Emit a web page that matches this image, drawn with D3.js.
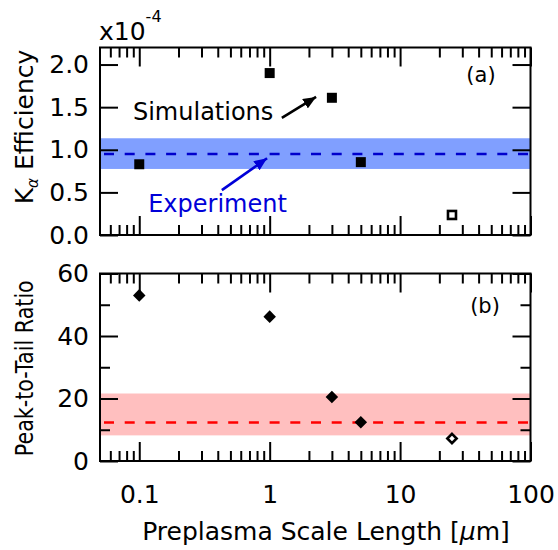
<!DOCTYPE html>
<html>
<head>
<meta charset="utf-8">
<script src="https://cdn.jsdelivr.net/npm/d3@7"></script>
<style>
  html, body { margin: 0; padding: 0; background: #fff; }
  svg { display: block; }
  text { font-family: "DejaVu Sans", sans-serif; fill: #000; }
</style>
</head>
<body>
<svg id="chart" width="558" height="550"></svg>
<script>
// ---------- data ----------
const scaleLength = [0.1, 1, 3, 5];          // µm, simulations (filled)
const kaEfficiency = [0.83, 1.90, 1.61, 0.855]; // x1e-4
const peakToTail = [53, 46.2, 20.5, 12.4];
const openLength = [25];                      // open marker
const openKa = [0.235];
const openPT = [7.2];
const kaExperiment = { value: 0.95, low: 0.775, high: 1.135 };
const ptExperiment = { value: 12.3, low: 8.2, high: 21.6 };
const xTickValues = [0.1, 1, 10, 100];
const xTickLabels = ["0.1", "1", "10", "100"];
const kaTicks = [0, 0.5, 1.0, 1.5, 2.0];
const ptTicks = [0, 20, 40, 60];
const ptMinorTicks = [10, 30, 50];

// ---------- layout ----------
const svg = d3.select("#chart");
const L = 100, R = 530.5;
const topA = 47.5, botA = 235;
const topB = 273.5, botB = 461;

const x = d3.scaleLog().domain([0.05, 100]).range([L, R]);
const yA = d3.scaleLinear().domain([0, 2.2]).range([botA, topA]);
const yB = d3.scaleLinear().domain([0, 60]).range([botB, topB]);

const minorX = [];
[0.01, 0.1, 1, 10].forEach(d => { for (let k = 2; k <= 9; k++) { const v = d * k; if (v > 0.05 && v < 100) minorX.push(v); } });

const defs = svg.append("defs");
function arrowMarker(id, color) {
  defs.append("marker").attr("id", id).attr("viewBox", "0 0 13 11")
    .attr("refX", 13).attr("refY", 5.5).attr("markerWidth", 13).attr("markerHeight", 11)
    .attr("markerUnits", "userSpaceOnUse").attr("orient", "auto")
    .append("path").attr("d", "M0,0 L13,5.5 L0,11 Z").attr("fill", color);
}
arrowMarker("arrBlack", "#000");
arrowMarker("arrBlue", "#0000d8");

const tickFont = "25px";
function styleAxis(g) {
  g.select(".domain").remove();
  g.selectAll(".tick line").attr("stroke", "#000").attr("stroke-width", 2);
  g.selectAll(".tick text").style("font-family", "DejaVu Sans, sans-serif").style("font-size", tickFont).attr("fill", "#000");
}

function panel(yScale, top, bot, yTicks, yFmt, yMinor, band, bandColor, lineColor) {
  // band
  svg.append("rect").attr("x", L).attr("width", R - L)
    .attr("y", yScale(band.high)).attr("height", yScale(band.low) - yScale(band.high))
    .attr("fill", bandColor);
  svg.append("line").attr("x1", L + 4).attr("x2", R - 2)
    .attr("y1", yScale(band.value)).attr("y2", yScale(band.value))
    .attr("stroke", lineColor).attr("stroke-width", 2.6).attr("stroke-dasharray", "10,10.7");

  // x ticks (bottom and top, inward)
  const gxb = svg.append("g").attr("transform", `translate(0,${bot})`)
    .call(d3.axisBottom(x).tickValues(xTickValues).tickSize(-19).tickFormat(() => ""));
  styleAxis(gxb);
  const gxbm = svg.append("g").attr("transform", `translate(0,${bot})`)
    .call(d3.axisBottom(x).tickValues(minorX).tickSize(-10).tickFormat(() => ""));
  styleAxis(gxbm);
  const gxt = svg.append("g").attr("transform", `translate(0,${top})`)
    .call(d3.axisTop(x).tickValues(xTickValues).tickSize(-19).tickFormat(() => ""));
  styleAxis(gxt);
  const gxtm = svg.append("g").attr("transform", `translate(0,${top})`)
    .call(d3.axisTop(x).tickValues(minorX).tickSize(-10).tickFormat(() => ""));
  styleAxis(gxtm);

  // y ticks
  const gyl = svg.append("g").attr("transform", `translate(${L},0)`)
    .call(d3.axisLeft(yScale).tickValues(yTicks).tickSize(-18).tickPadding(11).tickFormat(yFmt));
  styleAxis(gyl);
  const gyr = svg.append("g").attr("transform", `translate(${R},0)`)
    .call(d3.axisRight(yScale).tickValues(yTicks).tickSize(-18).tickFormat(() => ""));
  styleAxis(gyr);
  if (yMinor) {
    const gylm = svg.append("g").attr("transform", `translate(${L},0)`)
      .call(d3.axisLeft(yScale).tickValues(yMinor).tickSize(-10).tickFormat(() => ""));
    styleAxis(gylm);
    const gyrm = svg.append("g").attr("transform", `translate(${R},0)`)
      .call(d3.axisRight(yScale).tickValues(yMinor).tickSize(-10).tickFormat(() => ""));
    styleAxis(gyrm);
  }
  // frame
  svg.append("rect").attr("x", L).attr("y", top).attr("width", R - L).attr("height", bot - top)
    .attr("fill", "none").attr("stroke", "#000").attr("stroke-width", 2);
}

panel(yA, topA, botA, kaTicks, d3.format(".1f"), null, kaExperiment, "#809fff", "#0000cc");
panel(yB, topB, botB, ptTicks, d3.format("d"), ptMinorTicks, ptExperiment, "#ffbfbf", "#ff0000");

// x tick labels
const gxl = svg.append("g").attr("transform", `translate(0,${botB})`)
  .call(d3.axisBottom(x).tickValues(xTickValues).tickSize(0).tickPadding(24)
    .tickFormat((d, i) => xTickLabels[i]));
styleAxis(gxl);

// ---------- markers ----------
const sq = 10;
svg.append("g").selectAll("rect").data(scaleLength).join("rect")
  .attr("x", d => x(d) - sq / 2).attr("y", (d, i) => yA(kaEfficiency[i]) - sq / 2)
  .attr("width", sq).attr("height", sq).attr("fill", "#000");
svg.append("g").selectAll("rect").data(openLength).join("rect")
  .attr("x", d => x(d) - 4).attr("y", (d, i) => yA(openKa[i]) - 4)
  .attr("width", 8).attr("height", 8).attr("fill", "#fff").attr("stroke", "#000").attr("stroke-width", 2.6);

const diamond = d3.symbol().type(d3.symbolDiamond2).size(100);
svg.append("g").selectAll("path").data(scaleLength).join("path")
  .attr("transform", (d, i) => `translate(${x(d)},${yB(peakToTail[i])})`)
  .attr("d", diamond).attr("fill", "#000");
svg.append("g").selectAll("path").data(openLength).join("path")
  .attr("transform", (d, i) => `translate(${x(d)},${yB(openPT[i])})`)
  .attr("d", d3.symbol().type(d3.symbolDiamond2).size(55)).attr("fill", "#fff")
  .attr("stroke", "#000").attr("stroke-width", 2.6);

// ---------- annotations ----------
svg.append("text").attr("x", x(0.0895)).attr("y", yA(1.346))
  .style("font-size", "24px").text("Simulations");
svg.append("line").attr("x1", x(1.24)).attr("y1", yA(1.375)).attr("x2", x(2.27)).attr("y2", yA(1.62))
  .attr("stroke", "#000").attr("stroke-width", 2.6).attr("marker-end", "url(#arrBlack)");
svg.append("text").attr("x", x(0.117)).attr("y", yA(0.273))
  .style("font-size", "24px").style("fill", "#0000d8").text("Experiment");
svg.append("line").attr("x1", x(0.43)).attr("y1", yA(0.527)).attr("x2", x(0.955)).attr("y2", yA(0.90))
  .attr("stroke", "#0000d8").attr("stroke-width", 2.6).attr("marker-end", "url(#arrBlue)");

svg.append("text").attr("x", 481).attr("y", 82).attr("text-anchor", "middle")
  .style("font-size", "21px").text("(a)");
svg.append("text").attr("x", 485).attr("y", 313).attr("text-anchor", "middle")
  .style("font-size", "21px").text("(b)");

// multiplier
const mult = svg.append("text").attr("x", 99).attr("y", 40).style("font-size", "25px");
mult.append("tspan").text("x10");
mult.append("tspan").attr("dy", -18).style("font-size", "16px").text("-4");

// y titles
const ytA = svg.append("text").attr("transform", `translate(33,127) rotate(-90)`)
  .attr("text-anchor", "middle").style("font-size", "25px");
ytA.append("tspan").text("K");
ytA.append("tspan").attr("dy", 5).style("font-size", "15px").style("font-style", "italic").text("α");
ytA.append("tspan").attr("dy", -5).text(" Efficiency");

svg.append("text").attr("transform", `translate(33,${(topB + botB) / 2 + 1}) rotate(-90)`)
  .attr("text-anchor", "middle").style("font-size", "24px")
  .attr("textLength", 176).attr("lengthAdjust", "spacingAndGlyphs").text("Peak-to-Tail Ratio");

// x title
const xt = svg.append("text").attr("x", 326).attr("y", 540).attr("text-anchor", "middle")
  .style("font-size", "25px");
xt.append("tspan").text("Preplasma Scale Length [");
xt.append("tspan").style("font-style", "italic").text("μ");
xt.append("tspan").text("m]");
</script>
</body>
</html>
